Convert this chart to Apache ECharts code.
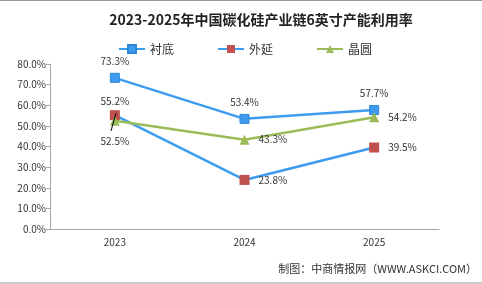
<!DOCTYPE html>
<html>
<head>
<meta charset="utf-8">
<script src="https://cdn.jsdelivr.net/npm/echarts@6/dist/echarts.min.js"></script>
<style>
  html, body { margin: 0; padding: 0; background: #fff; }
  #chart { width: 482px; height: 284px; }
</style>
</head>
<body>
<div id="chart"></div>
<script>
// 年份
const years = ['2023', '2024', '2025']
// 各环节产能利用率（%）
const chendi = [73.3, 53.4, 57.7]
const waiyan = [55.2, 23.8, 39.5]
const jingyuan = [52.5, 43.3, 54.2]

const font = '"Noto Sans CJK SC", "DejaVu Sans", sans-serif'
const lblColor = '#333'

const myChart = echarts.init(document.getElementById('chart'))

const option = {
  backgroundColor: '#fff',
  animation: false,
  title: {
    text: '2023-2025年中国碳化硅产业链6英寸产能利用率',
    left: 256,
    textAlign: 'center',
    top: 8,
    textStyle: { fontFamily: font, fontSize: 14, fontWeight: 'bold', color: '#222' },
  },
  legend: {
    top: 38,
    left: 113,
    itemGap: 43,
    itemWidth: 26,
    itemHeight: 10,
    textStyle: { fontFamily: font, fontSize: 12, color: '#333' },
    data: ['衬底', '外延', '晶圆'],
  },
  grid: { left: 50, right: 43, top: 64, bottom: 55 },
  xAxis: {
    type: 'category',
    data: years,
    boundaryGap: true,
    axisLine: { lineStyle: { color: '#a6a6a6' } },
    axisTick: { alignWithLabel: false, lineStyle: { color: '#a6a6a6' } },
    axisLabel: { color: lblColor, fontFamily: font, fontSize: 10, margin: 8 },
  },
  yAxis: {
    type: 'value',
    min: 0,
    max: 80,
    interval: 10,
    splitLine: { show: false },
    axisLine: { show: true, lineStyle: { color: '#a6a6a6' } },
    axisTick: { show: true, length: 4, lineStyle: { color: '#a6a6a6' } },
    axisLabel: {
      color: lblColor,
      fontFamily: font,
      fontSize: 10,
      margin: 4,
      formatter: (v) => v.toFixed(1) + '%',
    },
  },
  series: [
    {
      name: '衬底',
      type: 'line',
      data: chendi,
      symbol: 'rect',
      symbolSize: 9,
      color: '#3d9cf0',
      lineStyle: { width: 2.5, color: '#3d9cf0' },
      itemStyle: { color: '#3d9cf0', borderColor: '#2f86d6', borderWidth: 1 },
      label: {
        show: true,
        position: 'top',
        distance: 7,
        color: lblColor,
        fontFamily: font,
        fontSize: 10,
        formatter: (p) => p.value.toFixed(1) + '%',
      },
    },
    {
      name: '外延',
      type: 'line',
      data: waiyan.map((v, i) => ({
        value: v,
        label: i === 0 ? { position: 'top', distance: 4 } : { position: 'right', distance: 9 },
      })),
      symbol: 'rect',
      symbolSize: 10,
      color: '#c0504d',
      lineStyle: { width: 2.5, color: '#3d9cf0' },
      itemStyle: { color: '#c0504d' },
      label: {
        show: true,
        color: lblColor,
        fontFamily: font,
        fontSize: 10,
        formatter: (p) => p.value.toFixed(1) + '%',
      },
    },
    {
      name: '晶圆',
      type: 'line',
      data: jingyuan.map((v, i) => ({
        value: v,
        label: i === 0 ? { position: 'bottom', distance: 10 } : { position: 'right', distance: 9 },
      })),
      symbol: 'triangle',
      symbolSize: 10,
      color: '#9bbb59',
      lineStyle: { width: 2.5, color: '#9bbb59' },
      itemStyle: { color: '#9bbb59' },
      label: {
        show: true,
        color: lblColor,
        fontFamily: font,
        fontSize: 10,
        formatter: (p) => p.value.toFixed(1) + '%',
      },
    },
  ],
  graphic: [
    // 上下边框
    { type: 'line', shape: { x1: 0, y1: 0.5, x2: 482, y2: 0.5 }, style: { stroke: '#999', lineWidth: 1 } },
    { type: 'line', shape: { x1: 0, y1: 283, x2: 482, y2: 283 }, style: { stroke: '#999', lineWidth: 1 } },
    // 2023年标签引线
    { type: 'line', z: 10, shape: { x1: 111, y1: 131, x2: 116, y2: 113 }, style: { stroke: '#000', lineWidth: 1 } },
    {
      type: 'text',
      right: 5,
      top: 263,
      style: { text: '制图：中商情报网（WWW.ASKCI.COM）', fill: '#333', font: '11px ' + font },
    },
  ],
}

myChart.setOption(option)
</script>
</body>
</html>
